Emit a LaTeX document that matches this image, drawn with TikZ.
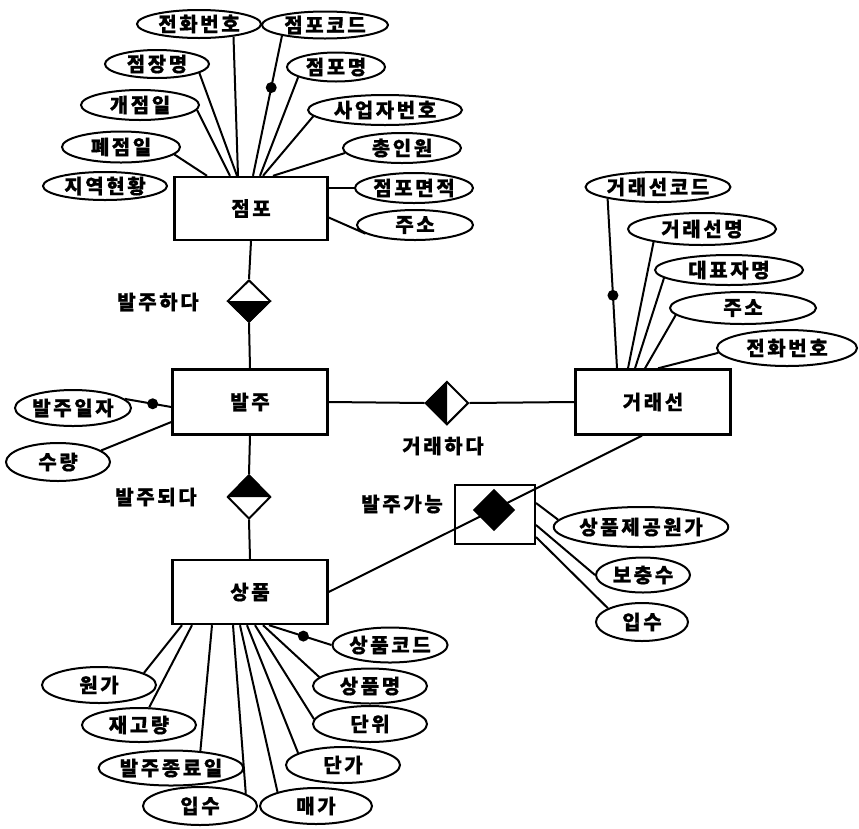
\documentclass[tikz,border=0pt]{standalone}
\usepackage{fontspec}
\setmainfont{Noto Sans CJK KR}[LetterSpace=13,BoldFeatures={FakeBold=0.6}]
\usetikzlibrary{shapes.geometric}

\begin{document}
\begin{tikzpicture}[x=1pt,y=-1pt,line width=2pt,
    font=\fontsize{20}{22}\selectfont\bfseries,
    ent/.style={draw,line width=2.4pt,minimum width=155pt,minimum height=64pt,inner sep=0pt},
    attr/.style={ellipse,draw,inner sep=0pt,minimum height=31pt},
    rel/.style={diamond,draw,inner sep=0pt,minimum width=43pt,minimum height=42pt},
    keydot/.style={circle,fill,inner sep=0pt,minimum size=11pt}]
  \useasboundingbox (0,0) rectangle (859,828);

  % entities
  \node[ent,minimum width=153pt,minimum height=63pt] (st) at (251,208.5) {점포};
  \node[ent,minimum height=65pt] (od) at (250,402) {발주};
  \node[ent] (sp) at (250,592) {상품};
  \node[ent,minimum height=65pt] (tr) at (653,402) {거래선};

  % relationships
  \node[rel] (r1) at (249,301) {};
  \fill (r1.west) -- (r1.south) -- (r1.east) -- cycle;
  \node (l1) at (158,302) {발주하다};
  \node[rel,minimum height=43pt] (r2) at (447,403) {};
  \fill (r2.north) -- (r2.west) -- (r2.south) -- cycle;
  \node (l2) at (443,446) {거래하다};
  \node[rel,minimum height=44pt] (r3) at (249,497) {};
  \fill (r3.west) -- (r3.north) -- (r3.east) -- cycle;
  \node (l3) at (156,497) {발주되다};
  \node[draw,minimum width=80pt,minimum height=59pt,inner sep=0pt] (r4) at (495,514) {};
  \node[diamond,fill,inner sep=0pt,minimum size=43pt] (r4d) at (494,510) {};
  \node (l4) at (402,504) {발주가능};

  \draw (st.south) -- (r1.north);
  \draw (r1.south) -- (od.north);
  \draw (od.south) -- (r3.north);
  \draw (r3.south) -- (sp.north);
  \draw (od.east) -- (r2.west);
  \draw (r2.east) -- (tr.west);
  \draw (sp.east) -- ([xshift=-11pt]tr.south);

  % store attributes
  \node[attr,minimum width=124pt,minimum height=28pt] (s1) at (199,24) {전화번호};
  \node[attr,minimum width=126pt,minimum height=27pt] (s2) at (325,25) {점포코드};
  \node[attr,minimum width=104pt,minimum height=28pt] (s3) at (157,64) {점장명};
  \node[attr,minimum width=98pt,minimum height=29pt] (s4) at (336,67) {점포명};
  \node[attr,minimum width=118pt,minimum height=30pt] (s5) at (140,105) {개점일};
  \node[attr,minimum width=154pt,minimum height=30pt] (s6) at (385,110) {사업자번호};
  \node[attr,minimum width=118pt] (s7) at (121,147) {폐점일};
  \node[attr,minimum width=118pt,minimum height=30pt] (s8) at (402,148) {총인원};
  \node[attr,minimum width=124pt,minimum height=28pt] (s9) at (105,186) {지역현황};
  \node[attr,minimum width=118pt,minimum height=30pt] (s10) at (414,188) {점포면적};
  \node[attr,minimum width=116pt,minimum height=30pt] (s11) at (415,225) {주소};

  \draw (s7.-8) -- ([xshift=-44pt]st.north);
  \draw (s5.-5) -- ([xshift=-21pt]st.north);
  \draw (s3.-12) -- ([xshift=-14pt]st.north);
  \draw (s1.-20) -- ([xshift=-13pt]st.north);
  \draw (s2.194) -- node[keydot,pos=.37] (k1) {} ([xshift=2pt]st.north);
  \draw (s4.195) -- ([xshift=9pt]st.north);
  \draw (s6.185) -- ([xshift=12pt]st.north);
  \draw (s8.185) -- ([xshift=22pt]st.north);
  \draw (s10.west) -- (s10.west -| st.east);
  \draw (s11.190) -- ([yshift=-9pt]st.east);

  % order attributes
  \node[attr,minimum width=116pt,minimum height=36pt] (a1) at (73,408) {발주일자};
  \node[attr,minimum width=104pt,minimum height=38pt] (a2) at (58,462) {수량};
  \draw (a1.10) -- node[keydot,pos=.6] (k2) {} ([yshift=-5pt]od.west);
  \draw (a2.15) -- ([yshift=-20pt]od.west);

  % supplier attributes
  \node[attr,minimum width=140pt,minimum height=30pt] (t1) at (658,187) {거래선코드};
  \node[attr,minimum width=148pt,minimum height=32pt] (t2) at (702,229) {거래선명};
  \node[attr,minimum width=148pt,minimum height=30pt] (t3) at (729,270) {대표자명};
  \node[attr,minimum width=146pt,minimum height=32pt] (t4) at (743,308) {주소};
  \node[attr,minimum width=140pt,minimum height=36pt] (t5) at (787,348) {전화번호};
  \draw (t1.193) -- node[keydot,pos=.57] (k3) {} ([xshift=-36pt]tr.north);
  \draw (t2.195) -- ([xshift=-25pt]tr.north);
  \draw (t3.187) -- ([xshift=-18pt]tr.north);
  \draw (t4.186) -- ([xshift=-8pt]tr.north);
  \draw (t5.184) -- ([xshift=5pt]tr.north);

  % orderable attributes
  \node[attr,minimum width=158pt,minimum height=40pt] (p1) at (641,527) {상품제공원가};
  \node[attr,minimum width=94pt,minimum height=35pt] (p2) at (643,575) {보충수};
  \node[attr,minimum width=92pt,minimum height=38pt] (p3) at (642,622) {입수};
  \draw (p1.175) -- ([yshift=11pt]r4.east);
  \draw (p2.180) -- ([yshift=-11pt]r4.east);
  \draw (p3.158) -- ([yshift=-23pt]r4.east);

  % goods attributes
  \node[attr,minimum width=114pt,minimum height=35pt] (b1) at (390,645) {상품코드};
  \node[attr,minimum width=114pt,minimum height=35pt] (b2) at (370,686) {상품명};
  \node[attr,minimum width=114pt,minimum height=36pt] (b3) at (370,724) {단위};
  \node[attr,minimum width=114pt,minimum height=36pt] (b4) at (343,765) {단가};
  \node[attr,minimum width=112pt,minimum height=36pt] (b5) at (316,806) {매가};
  \node[attr,minimum width=114pt,minimum height=38pt] (b6) at (200,806) {입수};
  \node[attr,minimum width=138pt,minimum height=35pt] (b7) at (171,768) {발주종료일};
  \node[attr,minimum width=114pt,minimum height=34pt] (b8) at (139,725) {재고량};
  \node[attr,minimum width=114pt,minimum height=36pt] (b9) at (99,685) {원가};
  \draw (b1.180) -- node[keydot,pos=.45] (k4) {} ([xshift=19pt]sp.south);
  \draw (b2.170) -- ([xshift=13pt]sp.south);
  \draw (b3.175) -- ([xshift=5pt]sp.south);
  \draw (b4.165) -- ([xshift=-3pt]sp.south);
  \draw (b5.160) -- ([xshift=-10pt]sp.south);
  \draw (b6.15) -- ([xshift=-17pt]sp.south);
  \draw (b7.30) -- ([xshift=-38pt]sp.south);
  \draw (b8.60) -- ([xshift=-58pt]sp.south);
  \draw (b9.15) -- ([xshift=-68pt]sp.south);
\end{tikzpicture}
\end{document}
